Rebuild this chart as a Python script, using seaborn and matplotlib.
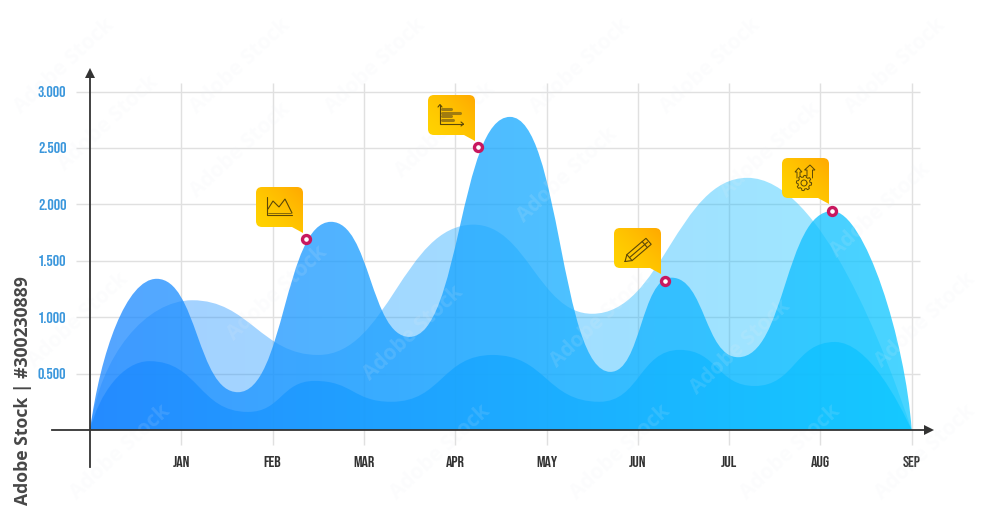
import numpy as np
import pandas as pd
import matplotlib
matplotlib.use("Agg")
import matplotlib.pyplot as plt
from matplotlib.path import Path
from matplotlib.patches import PathPatch
from matplotlib.transforms import Affine2D
from matplotlib.colors import to_rgb
import seaborn as sns

# ---------- data ----------
months = ["JAN", "FEB", "MAR", "APR", "MAY", "JUN", "JUL", "AUG", "SEP"]
month_pos = [1, 2, 3, 4, 5, 6, 7, 8, 9]
y_ticks = [500, 1000, 1500, 2000, 2500, 3000]
y_labels = ["0.500", "1.000", "1.500", "2.000", "2.500", "3.000"]

# turning points of each wave: start and end sit on the axis
back_x = [0, 1.12, 2.50, 4.20, 5.50, 7.20, 9]
back_y = [0, 1150, 665, 1820, 1030, 2235, 0]
front_x = [0, 0.73, 1.62, 2.64, 3.50, 4.60, 5.70, 6.37, 7.10, 8.13, 9]
front_y = [0, 1340, 335, 1845, 825, 2775, 515, 1350, 645, 1940, 0]
low_x = [0, 0.65, 1.73, 2.46, 3.30, 4.41, 5.58, 6.46, 7.28, 8.16, 9]
low_y = [0, 610, 160, 435, 250, 665, 250, 710, 390, 780, 0]

point_x = [2.37, 4.25, 6.30, 8.13]
point_y = [1693, 2508, 1320, 1941]

credit_text = "Adobe Stock | #300230889"
stamp_text = "Adobe Stock"
stamp_px = [(108, 123), (78, 320), (120, 452), (240, 150), (277, 293), (445, 130), (413, 333), (567, 175),
            (600, 320), (740, 347), (880, 210), (925, 320), (790, 452), (770, 150), (375, 66), (580, 66),
            (710, 66), (895, 66), (64, 66), (240, 66), (440, 452), (620, 452), (925, 452)]

# ---------- style ----------
sns.set_theme(style="white")
TICKF = ["Bebas Neue", "Roboto Condensed", "Liberation Sans", "DejaVu Sans"]
fig = plt.figure(figsize=(10, 5.2), dpi=100)
ax = fig.add_axes([0, 0, 1, 1])
ax.patch.set_facecolor("white")

XS, YS = 91.3, 338.5 / 3000
X0, Y0 = 90, 430
xlim = (-X0 / XS, (1000 - X0) / XS)
ylim = ((Y0 - 520) / YS, Y0 / YS)
px = Affine2D().scale(1, -1).translate(0, 520)


def dx(p):
    return (p - X0) / XS


def dy(p):
    return (Y0 - p) / YS


GRID = "#e0e0e0"
ax.hlines(y_ticks, dx(76), dx(920), color=GRID, lw=1.0, zorder=1)
ax.vlines(month_pos, dy(445), dy(83), color=GRID, lw=1.0, zorder=1)


def wave(xs, ys, f, start, end):
    """One Bezier per rise or fall, flat at each turning point."""
    verts, codes = [(xs[0], ys[0])], [Path.MOVETO]
    n = len(xs) - 1
    for i in range(n):
        x0, y0, x1, y1 = xs[i], ys[i], xs[i + 1], ys[i + 1]
        w = x1 - x0
        if i == 0:
            c1 = (x0 + start[0] * w, y1 * start[1])
            c2 = (x1 - start[2] * w, y1)
        elif i == n - 1:
            c1 = (x0 + end[0] * w, y0)
            c2 = (x1 - end[1] * w, y0 * end[2])
        else:
            c1 = (x0 + f * w, y0)
            c2 = (x1 - f * w, y1)
        verts += [c1, c2, (x1, y1)]
        codes += [Path.CURVE4] * 3
    verts += [(xs[0], ys[0])]
    codes += [Path.CLOSEPOLY]
    return Path(verts, codes)


left, right = np.array(to_rgb("#1e88ff")), np.array(to_rgb("#0ec8ff"))
ramp = np.linspace(0, 1, 256)[None, :, None]
grad = left[None, None, :] * (1 - ramp) + right[None, None, :] * ramp

layers = [
    (back_x, back_y, .40, 2, .45, (.10, .58, .45), (.45, .155, .30)),
    (front_x, front_y, .76, 3, .50, (.16, .52, .45), (.41, .08, .41)),
    (low_x, low_y, .78, 4, .50, (.15, .52, .45), (.43, .17, .32)),
]
for xs, ys, alpha, z, f, st, en in layers:
    sns.lineplot(x=xs, y=ys, ax=ax, linewidth=0, sort=False, estimator=None, legend=False)
    patch = PathPatch(wave(xs, ys, f, st, en), transform=ax.transData, fc="none", ec="none")
    ax.add_patch(patch)
    im = ax.imshow(grad, extent=(0, 9, 0, 3000), aspect="auto", alpha=alpha, zorder=z, interpolation="bilinear")
    im.set_clip_path(patch)

for s in ["top", "right"]:
    ax.spines[s].set_visible(False)
AXC = "#333333"
for s in ["left", "bottom"]:
    ax.spines[s].set_position(("data", 0))
    ax.spines[s].set_color(AXC)
    ax.spines[s].set_linewidth(1.3)
    ax.spines[s].set_zorder(6)
ax.spines["left"].set_bounds(dy(467), dy(74))
ax.spines["bottom"].set_bounds(dx(52), dx(928))
ax.set_xticks(month_pos, months)
ax.set_yticks(y_ticks, y_labels)
ax.tick_params(axis="both", length=0)
ax.tick_params(axis="x", pad=19, labelsize=11.5, labelcolor="#333333")
ax.tick_params(axis="y", pad=17, labelsize=11.5, labelcolor="#3b97dc")
for lab in ax.get_xticklabels() + ax.get_yticklabels():
    lab.set_family(TICKF)
ax.plot([dx(929)], [0], marker=">", ms=6.5, color=AXC, clip_on=False, zorder=6, mew=0)
ax.plot([0], [dy(73)], marker="^", ms=6.5, color=AXC, clip_on=False, zorder=6, mew=0)

# ---------- faint stamps ----------
for sx, sy in stamp_px:
    ax.text(sx, sy, stamp_text, transform=px, rotation=43, ha="center", va="center", rotation_mode="anchor",
            family="Open Sans", fontweight="bold", fontsize=15, color="#e8eef5", alpha=.13, zorder=5)

# ---------- callouts ----------
boxes = [(256, 187), (428, 95), (614, 228), (782, 158)]
W, H, R = 47, 40, 6
yel = np.zeros((32, 32, 3))
a, b = np.array(to_rgb("#ffd400")), np.array(to_rgb("#ffa900"))
for i in range(32):
    for j in range(32):
        f = ((j + (31 - i)) / 62) ** 1.5
        yel[i, j] = a * (1 - f) + b * f

for x0, y0 in boxes:
    x1, y1 = x0 + W, y0 + H
    v = [(x0 + R, y0), (x1 - R, y0), (x1, y0), (x1, y0 + R), (x1, y1 + 6), (x1 - 11, y1), (x0 + R, y1), (x0, y1),
         (x0, y1 - R), (x0, y0 + R), (x0, y0), (x0 + R, y0), (x0 + R, y0)]
    c = [Path.MOVETO, Path.LINETO, Path.CURVE3, Path.CURVE3, Path.LINETO, Path.LINETO, Path.LINETO, Path.CURVE3,
         Path.CURVE3, Path.LINETO, Path.CURVE3, Path.CURVE3, Path.CLOSEPOLY]
    p = PathPatch(Path(v, c), transform=px, fc="none", ec="none")
    ax.add_patch(p)
    im = ax.imshow(yel, extent=(dx(x0), dx(x1), dy(y1 + 8), dy(y0)), aspect="auto", zorder=7, interpolation="bilinear")
    im.set_clip_path(p)

ICON = "#5b4708"


def line(pts, lw=0.8, col=ICON):
    arr = np.array(pts, float)
    ax.plot(arr[:, 0], arr[:, 1], transform=px, color=col, lw=lw, zorder=8, solid_joinstyle="miter", clip_on=False)


# icon 1: area chart
line([(267, 197), (267, 215), (292, 215)])
line([(268, 209), (273, 201), (279, 207), (285, 199), (292, 213)])
line([(268, 213), (291, 213)], lw=0.5)

# icon 2: horizontal bars
line([(440, 105), (440, 124), (463, 124)])
line([(438, 107), (440, 104.5), (442, 107)])
line([(461, 122), (463.5, 124), (461, 126)])
for yy, xe, w in [(109, 451, 2.2), (112.5, 460, 2.2), (116, 451, 2.2), (120, 453, 2.2)]:
    line([(441.5, yy), (xe, yy)], lw=w, col="#a07c10")

# icon 3: pencil
line([(625, 261.5), (632.1, 260.6), (651.2, 244.3), (646, 238.3), (626.9, 254.6), (625, 261.5)])
line([(629.5, 257.6), (647.5, 242.2)])
line([(647.4, 247.6), (642.2, 241.6)])
line([(632.1, 260.6), (626.9, 254.6)])

# icon 4: gear with arrows
ang = np.linspace(0, 2 * np.pi, 65)
rad = np.where((np.arange(65) % 8) < 4, 7.6, 6.0)
line(list(zip(804 + rad * np.cos(ang), 183 + rad * np.sin(ang))), lw=0.7)
line(list(zip(804 + 3 * np.cos(ang), 183 + 3 * np.sin(ang))), lw=0.7)
line([(797, 178), (797, 172), (795, 172), (798.5, 168), (802, 172), (800, 172), (800, 176)], lw=0.7)
line([(807, 176), (807, 170), (804.5, 170), (810, 165), (815, 170), (812.5, 170), (812.5, 178)], lw=0.7)

# ---------- points ----------
pts = pd.DataFrame({"x": point_x, "y": point_y})
sns.scatterplot(data=pts, x="x", y="y", ax=ax, s=33, color="white", edgecolor="#c8185f", linewidth=2.4,
                zorder=9, legend=False, clip_on=False)

# ---------- credit ----------
ax.text(23, 391, credit_text, transform=px, rotation=90, ha="center", va="center",
        family="Open Sans", fontweight="bold", fontsize=12.7, color="#474747", zorder=9)

ax.set_xlabel("")
ax.set_ylabel("")
ax.set_xlim(xlim)
ax.set_ylim(ylim)
fig.savefig("out.png", dpi=100)
